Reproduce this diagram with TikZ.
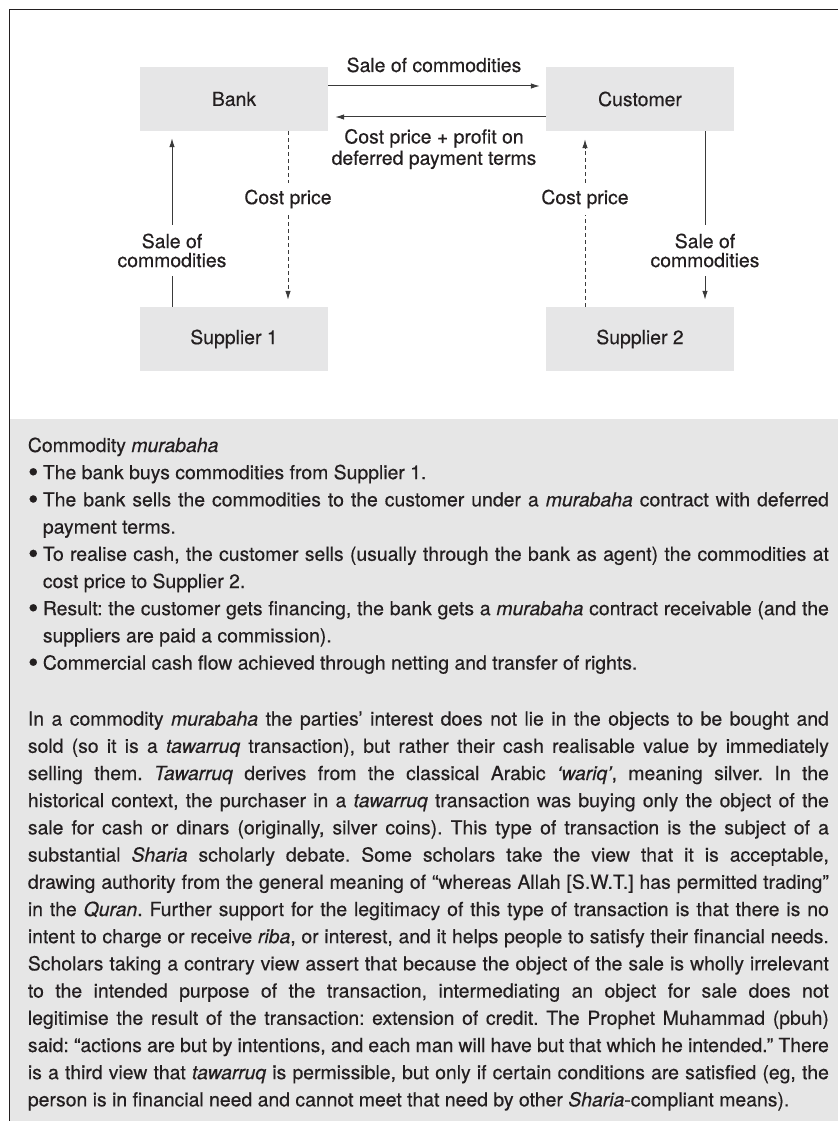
\documentclass[tikz,border=0pt]{standalone}
\usepackage{fontspec}
\setmainfont{TeX Gyre Heros}[FakeBold=0.4]
\usetikzlibrary{arrows.meta}

\definecolor{ink}{HTML}{231F20}
\definecolor{boxgray}{HTML}{E6E6E7}
\definecolor{panelgray}{HTML}{E6E6E6}
\definecolor{linegray}{HTML}{3A3A3A}

\newcommand\labfont{\fontsize{19.4}{21.3}\selectfont}
\newcommand\sidefont{\fontsize{19.4}{19}\selectfont}
\newcommand\bodyfont{\fontsize{19.4}{27.2}\selectfont}
\newcommand\bigdot{{\fontsize{29}{29}\selectfont\raisebox{-2.6pt}{•}}}
\newcommand\itm{\par\hangindent=15pt\hangafter=1\noindent\makebox[15pt][l]{\kern0.3pt\bigdot}}

\tikzset{
  party/.style={fill=boxgray, minimum width=188pt, minimum height=64pt,
    inner sep=0pt, text=ink, font=\labfont},
  lab/.style={text=ink, font=\labfont, inner sep=0pt},
  sidelab/.style={text=ink, font=\sidefont, inner sep=0pt, align=center},
  flow/.style={draw=linegray, line width=1pt},
  arr/.style={flow, -{Latex[length=9pt,width=5.5pt]}},
  dashflow/.style={dash pattern=on 4pt off 3pt}
}

\begin{document}
\begin{tikzpicture}[x=1pt,y=-1pt]
  \useasboundingbox (0,0) rectangle (838,1121);

  % frame and text panel
  \fill[panelgray] (10,419) rectangle (838,1121);
  \draw[ink, line width=1pt] (838,10) -- (9.5,10) -- (9.5,1121);

  % parties
  \node[party] (bank)     at (234,99)  {Bank};
  \node[party] (customer) at (640,99)  {Customer};
  \node[party] (sup1)     at (234,339) {Supplier 1};
  \node[party] (sup2)     at (640,339) {Supplier 2};

  % bank <-> customer
  \draw[arr] ([yshift=13pt]bank.east) -- ([xshift=-6pt,yshift=13pt]customer.west);
  \node[lab, anchor=base] (saletop) at (434,72) {Sale of commodities};
  \draw[arr] ([yshift=-18pt]customer.west) -- ([xshift=7pt,yshift=-18pt]bank.east);
  \node[lab, anchor=north, align=center] (payback) at (434,128.8)
    {Cost price + profit on\\deferred payment terms};

  % supplier 1 -> bank (commodities)
  \node[sidelab, minimum height=51pt] (sale1) at (172,250.5) {Sale of\\commodities};
  \path (bank.south -| sale1) ++(0,7) coordinate (tip1);
  \draw[flow] (sup1.north -| sale1) -- (sale1.south);
  \draw[arr] (sale1.north) -- (tip1);

  % bank -> supplier 1 (payment)
  \node[sidelab, minimum height=32pt] (cost1) at (288,199) {Cost price};
  \path (sup1.north -| cost1) ++(0,-7) coordinate (tip2);
  \draw[flow, dashflow] (bank.south -| cost1) -- (cost1.north);
  \draw[arr, dashflow] (cost1.south) -- (tip2);

  % supplier 2 -> customer (payment)
  \node[sidelab, minimum height=32pt] (cost2) at (585,199) {Cost price};
  \path (customer.south -| cost2) ++(0,8) coordinate (tip3);
  \draw[flow, dashflow] (sup2.north -| cost2) -- (cost2.south);
  \draw[arr, dashflow] (cost2.north) -- (tip3);

  % customer -> supplier 2 (commodities)
  \node[sidelab, minimum height=51pt] (sale2) at (705,250.5) {Sale of\\commodities};
  \path (sup2.north -| sale2) ++(0,-7) coordinate (tip4);
  \draw[flow] (customer.south -| sale2) -- (sale2.north);
  \draw[arr] (sale2.south) -- (tip4);

  % explanatory text
  \node[anchor=base west, inner sep=0pt, text=ink] (notes) at (27.7,452) {%
    \parbox[t]{801pt}{\bodyfont\frenchspacing
      \setlength\parindent{0pt}\hyphenpenalty=10000 \exhyphenpenalty=10000
      \emergencystretch=20pt
      Commodity \textit{murabaha}
      \itm The bank buys commodities from Supplier 1.
      \itm The bank sells the commodities to the customer under a \textit{murabaha} contract with deferred\linebreak
        payment terms.
      \itm To realise cash, the customer sells (usually through the bank as agent) the commodities at\linebreak
        cost price to Supplier 2.
      \itm Result: the customer gets financing, the bank gets a \textit{murabaha} contract receivable (and the\linebreak
        suppliers are paid a commission).
      \itm Commercial cash flow achieved through netting and transfer of rights.\par
      \vskip 28.8pt
      \noindent In a commodity \textit{murabaha} the parties’ interest does not lie in the objects to be bought and\linebreak
      sold (so it is a \textit{tawarruq} transaction), but rather their cash realisable value by immediately\linebreak
      selling them. \textit{Tawarruq} derives from the classical Arabic \textit{‘wariq’}, meaning silver. In the\linebreak
      historical context, the purchaser in a \textit{tawarruq} transaction was buying only the object of the\linebreak
      sale for cash or dinars (originally, silver coins). This type of transaction is the subject of a\linebreak
      substantial \textit{Sharia} scholarly debate. Some scholars take the view that it is acceptable,\linebreak
      drawing authority from the general meaning of “whereas Allah [S.W.T.] has permitted trading”\linebreak
      in the \textit{Quran}. Further support for the legitimacy of this type of transaction is that there is no\linebreak
      intent to charge or receive \textit{riba}, or interest, and it helps people to satisfy their financial needs.\linebreak
      Scholars taking a contrary view assert that because the object of the sale is wholly irrelevant\linebreak
      to the intended purpose of the transaction, intermediating an object for sale does not\linebreak
      legitimise the result of the transaction: extension of credit. The Prophet Muhammad (pbuh)\linebreak
      said: “actions are but by intentions, and each man will have but that which he intended.” There\linebreak
      is a third view that \textit{tawarruq} is permissible, but only if certain conditions are satisfied (eg, the\linebreak
      person is in financial need and cannot meet that need by other \textit{Sharia}-compliant means).\par
    }};
\end{tikzpicture}
\end{document}
